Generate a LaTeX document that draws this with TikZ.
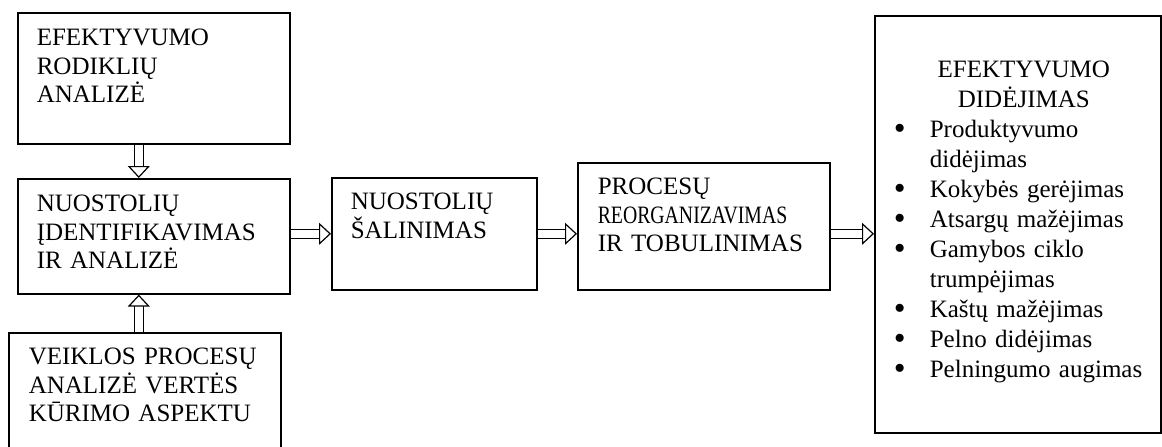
\documentclass[tikz,border=0pt]{standalone}
\usepackage{fontspec}
\usepackage{graphicx}
\setmainfont{Liberation Serif}
\usetikzlibrary{arrows.meta}
\newcommand{\bul}[1]{\par\noindent\hangindent=18.5pt\hangafter=1\makebox[18.5pt][l]{\hspace*{0.5pt}\raisebox{-0.6pt}{\scalebox{1.35}{\textbullet}}}#1\par}

\begin{document}
\begin{tikzpicture}[x=0.5pt, y=-0.5pt]
\tikzstyle{box} = [draw=black, line width=0.8pt, anchor=north west, align=left, inner ysep=0pt, font=\fontsize{12.5}{14.25}\selectfont]
\tikzstyle{bigarrow} = [draw=black, line width=0.6pt, double=white, double distance=3.8pt, -{Triangle[open, length=6pt, width=11pt, line width=0.6pt]}]

\useasboundingbox (0,0) rectangle (1162,446);

\node[box, inner xsep=9.5pt, text width=117pt, text height=16.5pt, text depth=49pt] (A) at (17,12) {EFEKTYVUMO\\RODIKLIŲ\\ANALIZĖ};
\node[box, inner xsep=9.5pt, text width=117pt, text height=16.5pt, text depth=41pt] (B) at (17,178) {NUOSTOLIŲ\\ĮDENTIFIKAVIMAS\\IR ANALIZĖ};
\node[box, inner xsep=10pt, text width=116pt, text height=16pt, text depth=43pt] (D) at (8,332) {VEIKLOS PROCESŲ\\ANALIZĖ VERTĖS\\KŪRIMO ASPEKTU};
\node[box, inner xsep=9.5pt, text width=83.5pt, text height=16pt, text depth=40pt] (C) at (331,177) {NUOSTOLIŲ\\ŠALINIMAS};
\node[box, inner xsep=10pt, text width=106pt, text height=16pt, text depth=47.5pt] (P) at (577,162) {PROCESŲ\\\scalebox{0.79}[1]{REORGANIZAVIMAS}\\IR TOBULINIMAS};
\node[box, inner xsep=9pt, text width=125pt, text height=31pt, text depth=177.5pt, font=\fontsize{12.5}{15}\selectfont] (E) at (874,15) {{\centering\hspace*{6pt}EFEKTYVUMO\\\hspace*{6pt}DIDĖJIMAS\par}
\bul{Produktyvumo\hfil\break didėjimas}
\bul{Kokybės gerėjimas}
\bul{Atsargų mažėjimas}
\bul{Gamybos ciklo\hfil\break trumpėjimas}
\bul{Kaštų mažėjimas}
\bul{Pelno didėjimas}
\bul{Pelningumo augimas}};

\draw[bigarrow] ([xshift=-7.5pt]A.south) -- ([xshift=-7.5pt]B.north);
\draw[bigarrow] ([xshift=-3pt]D.north) -- ([xshift=-7.5pt]B.south);
\draw[bigarrow] (B.east |- C.west) -- (C.west);
\draw[bigarrow] (C.east) -- (P.west |- C.east);
\draw[bigarrow] (P.east |- C.east) -- (E.west |- C.east);
\end{tikzpicture}
\end{document}
